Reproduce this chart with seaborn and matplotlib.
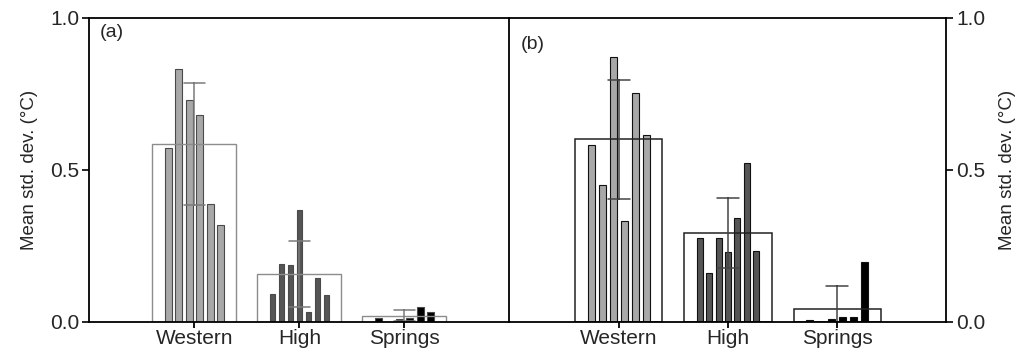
import numpy as np
import pandas as pd
import matplotlib
matplotlib.use('Agg')
import matplotlib.pyplot as plt
import seaborn as sns

# data: std. dev. per site
groups = ['Western', 'High', 'Springs']

a_western = [0.572, 0.832, 0.728, 0.680, 0.386, 0.319]
a_high = [0.092, 0.191, 0.187, 0.367, 0.033, 0.143, 0.087]
a_springs = [0.013, 0.0, 0.008, 0.013, 0.050, 0.032]

b_western = [0.583, 0.451, 0.871, 0.332, 0.751, 0.616]
b_high = [0.277, 0.160, 0.277, 0.229, 0.341, 0.521, 0.232]
b_springs = [0.004, 0.0, 0.010, 0.015, 0.016, 0.197]

sns.set_style('white')
plt.rcParams['font.family'] = ['Liberation Sans', 'DejaVu Sans']

bar_fill = {'Western': '#a8a8a8', 'High': '#555555', 'Springs': '#000000'}


def make_df(w, h, s):
    rows = []
    for g, vals in zip(groups, [w, h, s]):
        for v in vals:
            rows.append({'group': g, 'value': v})
    return pd.DataFrame(rows)


def draw_panel(ax, df, box_col, err_col, bar_edge, box_lw, label, label_y):
    sns.barplot(data=df, x='group', y='value', order=groups, errorbar='sd',
                fill=False, color=box_col, width=0.8, capsize=0.2,
                linewidth=box_lw, err_kws={'color': err_col, 'linewidth': 1.1},
                ax=ax)
    # individual sites inside each group
    for i, g in enumerate(groups):
        vals = df.loc[df['group'] == g, 'value'].values
        n = len(vals)
        sp = 0.6 / n
        pos = i + (np.arange(n) - (n - 1) / 2) * sp
        ax.bar(pos, vals, width=sp * 0.64, color=bar_fill[g],
               edgecolor=bar_edge, linewidth=0.8, zorder=0.8)
    ax.set_xlim(-1, 3)
    ax.set_ylim(0, 1.0)
    ax.set_yticks([0.0, 0.5, 1.0])
    ax.set_yticklabels(['0.0', '0.5', '1.0'])
    ax.set_xlabel('')
    ax.set_ylabel('Mean std. dev. (°C)', fontsize=13.5)
    ax.tick_params(axis='x', bottom=True, labelsize=15, length=4, width=1.3,
                   direction='out', pad=1, color='black')
    ax.tick_params(axis='y', labelsize=15, length=5, width=1.2,
                   direction='out', pad=2, color='black')
    for sp_ in ax.spines.values():
        sp_.set_linewidth(1.3)
        sp_.set_color('black')
    ax.text(0.025, label_y, label, transform=ax.transAxes, fontsize=14,
            va='top', ha='left')


fig = plt.figure(figsize=(10.2, 3.55), dpi=100)
ax1 = fig.add_axes([0.0877, 0.0938, 0.4118, 0.856])
ax2 = fig.add_axes([0.4995, 0.0938, 0.4284, 0.856])
ax2.patch.set_alpha(0)

draw_panel(ax1, make_df(a_western, a_high, a_springs), '#8c8c8c', '#7a7a7a', '#4a4a4a', 1.0, '(a)', 0.98)
draw_panel(ax2, make_df(b_western, b_high, b_springs), '#222222', '#444444', '#111111', 1.1, '(b)', 0.94)

ax1.tick_params(axis='y', left=True, right=False)
ax2.spines['left'].set_visible(False)
ax2.yaxis.set_label_position('right')
ax2.yaxis.tick_right()
ax2.tick_params(axis='y', right=True, left=False)
ax2.set_ylabel('Mean std. dev. (°C)', fontsize=13.5, labelpad=10)
ax1.yaxis.labelpad = 9

fig.savefig('out.png', dpi=100)
